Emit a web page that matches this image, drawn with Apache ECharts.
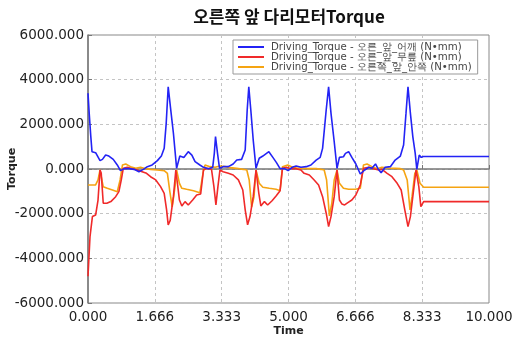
<!DOCTYPE html>
<html>
<head>
<meta charset="utf-8">
<script src="https://cdn.jsdelivr.net/npm/echarts@6/dist/echarts.min.js"></script>
<style>
  html, body { margin: 0; padding: 0; background: #fff; }
  #chart { width: 524px; height: 341px; }
</style>
</head>
<body>
<div id="chart"></div>
<script>
const xTickLabels = ['0.000', '1.666', '3.333', '5.000', '6.666', '8.333', '10.000']

const seriesNames = [
  'Driving_Torque - 오른_앞_어깨 (N•mm)',
  'Driving_Torque - 오른_앞_무릎 (N•mm)',
  'Driving_Torque - 오른쪽_앞_안쪽 (N•mm)',
]

// 어깨 (blue)
const shoulderTime = [0, 0.03, 0.07, 0.10, 0.19, 0.30, 0.36, 0.44, 0.52, 0.63, 0.73, 0.81, 0.90, 1.02, 1.15, 1.27, 1.38, 1.48, 1.60, 1.73, 1.83, 1.90, 1.95, 2.00, 2.06, 2.13, 2.21, 2.29, 2.39, 2.50, 2.59, 2.67, 2.79, 2.88, 3.00, 3.11, 3.15, 3.18, 3.23, 3.28, 3.37, 3.50, 3.62, 3.71, 3.83, 3.92, 3.97, 4.01, 4.06, 4.12, 4.19, 4.27, 4.36, 4.51, 4.61, 4.70, 4.79, 4.90, 4.99, 5.09, 5.19, 5.31, 5.44, 5.56, 5.69, 5.79, 5.85, 5.94, 6.00, 6.06, 6.14, 6.21, 6.27, 6.37, 6.42, 6.50, 6.58, 6.68, 6.79, 6.90, 7.00, 7.08, 7.17, 7.23, 7.31, 7.41, 7.54, 7.66, 7.79, 7.87, 7.93, 7.98, 8.04, 8.10, 8.16, 8.20, 8.26, 8.31, 8.36, 10]
const shoulderTorque = [3390, 2490, 1450, 775, 730, 375, 430, 625, 580, 430, 180, -75, 15, 15, -15, -120, -15, 105, 180, 375, 580, 925, 2040, 3680, 2700, 1600, 30, 580, 520, 775, 625, 330, 180, 75, 15, 75, 700, 1450, 700, 30, 105, 105, 225, 400, 430, 850, 2640, 3680, 2640, 1300, 30, 480, 580, 775, 520, 285, 15, 15, -75, 75, 135, 75, 105, 180, 400, 520, 925, 2640, 3680, 2490, 1220, 30, 520, 550, 700, 775, 520, 225, -225, -45, 75, 30, 225, 15, -165, 75, 105, 400, 580, 1075, 2490, 3680, 2490, 1450, 700, -15, 620, 520, 560, 560]

// 무릎 (red)
const kneeTime = [0, 0.05, 0.11, 0.19, 0.25, 0.30, 0.33, 0.38, 0.47, 0.57, 0.69, 0.77, 0.83, 0.88, 0.98, 1.10, 1.23, 1.35, 1.46, 1.56, 1.69, 1.81, 1.90, 1.96, 2.00, 2.05, 2.13, 2.19, 2.28, 2.34, 2.42, 2.50, 2.61, 2.71, 2.81, 2.88, 2.96, 3.08, 3.14, 3.19, 3.24, 3.29, 3.37, 3.50, 3.62, 3.75, 3.86, 3.92, 3.98, 4.04, 4.12, 4.19, 4.26, 4.31, 4.40, 4.48, 4.59, 4.69, 4.79, 4.85, 4.95, 5.06, 5.19, 5.31, 5.39, 5.52, 5.64, 5.75, 5.85, 5.94, 6.00, 6.06, 6.14, 6.21, 6.27, 6.33, 6.40, 6.48, 6.58, 6.68, 6.79, 6.87, 7.00, 7.12, 7.25, 7.33, 7.46, 7.58, 7.71, 7.81, 7.90, 7.98, 8.04, 8.12, 8.18, 8.25, 8.30, 8.37, 10]
const kneeTorque = [-4800, -3030, -2130, -2060, -1390, -45, -195, -1535, -1535, -1460, -1240, -1010, -490, 30, 75, 15, -45, -120, -195, -345, -490, -790, -1090, -1830, -2500, -2300, -1240, -45, -1390, -1655, -1460, -1610, -1390, -1165, -1120, -45, 30, -15, -790, -1610, -790, -45, -120, -195, -270, -490, -940, -1830, -2500, -2130, -1240, -45, -1090, -1655, -1460, -1610, -1420, -1210, -970, 30, 75, 15, 15, -45, -195, -270, -490, -715, -1240, -1980, -2580, -2130, -1240, -45, -1390, -1565, -1610, -1505, -1390, -1165, -715, 30, 75, 15, -45, -15, -195, -345, -640, -940, -1830, -2580, -2130, -940, -45, -790, -1685, -1460, -1460]

// 안쪽 (orange)
const innerTime = [0, 0.19, 0.25, 0.30, 0.33, 0.38, 0.48, 0.61, 0.73, 0.80, 0.86, 0.94, 1.06, 1.19, 1.31, 1.44, 1.56, 1.73, 1.90, 1.98, 2.04, 2.10, 2.17, 2.21, 2.28, 2.34, 2.46, 2.63, 2.79, 2.88, 2.92, 3.04, 3.17, 3.29, 3.42, 3.54, 3.71, 3.87, 3.96, 4.02, 4.08, 4.14, 4.19, 4.27, 4.36, 4.52, 4.69, 4.79, 4.85, 4.98, 5.10, 5.23, 5.35, 5.52, 5.69, 5.81, 5.89, 5.95, 6.02, 6.08, 6.14, 6.21, 6.27, 6.37, 6.50, 6.67, 6.79, 6.87, 6.96, 7.08, 7.21, 7.33, 7.50, 7.66, 7.79, 7.87, 7.96, 8.03, 8.08, 8.15, 8.20, 8.28, 8.37, 10]
const innerTorque = [-715, -715, -490, -45, -345, -790, -865, -940, -1015, -490, 180, 225, 105, 30, 75, 15, -15, -45, -75, -195, -1000, -1700, -790, -45, -640, -865, -910, -970, -1060, -45, 180, 105, 75, 135, 105, 60, 30, -15, -45, -490, -1700, -1240, -45, -640, -820, -865, -910, -970, 105, 180, 75, 30, 30, 15, 15, -15, -45, -490, -2100, -1535, -490, -45, -640, -865, -910, -910, -865, 180, 225, 105, 15, 75, 45, 30, 15, -45, -490, -1834, -1240, -195, -45, -640, -820, -820]

const colors = ['#2323f5', '#f02a2a', '#f5a412']

const zip = (ts, vs) => ts.map((t, i) => [t, vs[i]])

const chart = echarts.init(document.getElementById('chart'))

const axisFont = { fontFamily: 'DejaVu Sans', fontSize: 13.5, color: '#222' }
const nameFont = { fontFamily: 'DejaVu Sans', fontSize: 11, fontWeight: 'bold', color: '#222' }
const gridLine = { show: true, lineStyle: { color: '#c4c4c4', type: [3, 3] } }

chart.setOption({
  animation: false,
  title: {
    text: '오른쪽 앞 다리모터Torque',
    left: 284,
    textAlign: 'center',
    top: 3,
    textStyle: { fontFamily: 'Noto Sans CJK KR', fontSize: 17, fontWeight: 'bold', color: '#111' },
  },
  grid: {
    left: 88, right: 35, top: 35, bottom: 38,
    outerBoundsMode: 'none',
    containLabel: false,
    show: true, borderColor: '#888', borderWidth: 1,
  },
  legend: {
    orient: 'vertical',
    left: 233, top: 40,
    backgroundColor: '#fff',
    borderColor: '#999', borderWidth: 1,
    padding: [2, 6, 2, 5],
    itemGap: 0,
    itemWidth: 26, itemHeight: 2,
    icon: 'rect',
    textStyle: { fontFamily: 'DejaVu Sans', fontSize: 10.2, color: '#444', padding: [0, 0, 0, 2] },
    data: seriesNames,
  },
  xAxis: {
    type: 'value',
    min: 0, max: 10, interval: 10 / 6,
    name: 'Time',
    nameLocation: 'middle',
    nameGap: 23,
    nameMoveOverlap: false,
    nameTextStyle: nameFont,
    axisLine: { lineStyle: { color: '#777', width: 1.5 } },
    axisTick: { show: true, inside: true, length: 4, lineStyle: { color: '#777' } },
    axisLabel: {
      ...axisFont,
      margin: 7,
      formatter: (v) => xTickLabels[Math.round(v / (10 / 6))],
    },
    splitLine: gridLine,
  },
  yAxis: {
    type: 'value',
    min: -6000, max: 6000, interval: 2000,
    name: 'Torque',
    nameLocation: 'middle',
    nameGap: 70,
    nameMoveOverlap: false,
    nameTextStyle: nameFont,
    axisLine: { show: true, lineStyle: { color: '#777', width: 1.5 } },
    axisTick: { show: true, inside: true, length: 4, lineStyle: { color: '#777' } },
    axisLabel: {
      ...axisFont,
      margin: 4,
      formatter: (v) => v.toFixed(3),
    },
    splitLine: gridLine,
  },
  series: [
    { name: seriesNames[0], data: zip(shoulderTime, shoulderTorque) },
    { name: seriesNames[1], data: zip(kneeTime, kneeTorque) },
    { name: seriesNames[2], data: zip(innerTime, innerTorque) },
  ].map((s, i) => ({
    ...s,
    type: 'line',
    showSymbol: false,
    z: 3 - i,
    lineStyle: { color: colors[i], width: 1.6 },
    itemStyle: { color: colors[i] },
  })),
})
</script>
</body>
</html>
